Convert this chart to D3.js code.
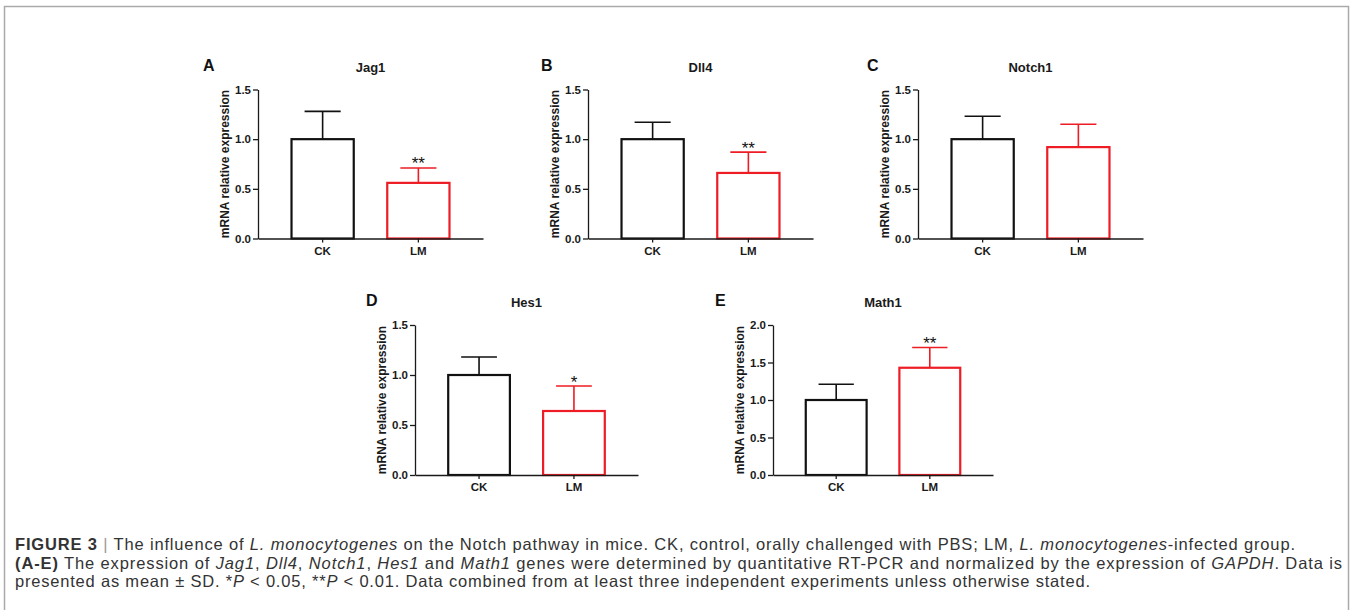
<!DOCTYPE html>
<html>
<head>
<meta charset="utf-8">
<script src="https://cdn.jsdelivr.net/npm/d3@7"></script>
<style>
  body { margin: 0; background: #fff; }
  svg { display: block; }
  .axis path, .axis line { stroke: #1a1a1a; stroke-width: 1.3px; }
</style>
</head>
<body>
<div id="svg"></div>
<script>
// data
var categories = ["CK", "LM"];
var genes = ["Jag1", "Dll4", "Notch1", "Hes1", "Math1"];
var letters = ["A", "B", "C", "D", "E"];
var meanCK = [1.00, 1.00, 1.00, 1.00, 1.00];
var meanLM = [0.56, 0.66, 0.92, 0.64, 1.43];
var sdCK = [0.28, 0.17, 0.23, 0.18, 0.21];
var sdLM = [0.15, 0.21, 0.23, 0.25, 0.27];
var stars = ["**", "**", "", "*", "**"];
var yMax = [1.5, 1.5, 1.5, 1.5, 2.0];
var yTicks = [
  [0, 0.5, 1.0, 1.5],
  [0, 0.5, 1.0, 1.5],
  [0, 0.5, 1.0, 1.5],
  [0, 0.5, 1.0, 1.5],
  [0, 0.5, 1.0, 1.5, 2.0]
];
var barColors = ["#111111", "#ee1c24"];

// where each panel's plot area sits on the page
var panels = [
  { x0: 258, x1: 483, top: 89.5, bottom: 238.5 },
  { x0: 588, x1: 813, top: 89.5, bottom: 238.5 },
  { x0: 918, x1: 1143, top: 89.5, bottom: 238.5 },
  { x0: 415, x1: 638, top: 325, bottom: 475 },
  { x0: 773, x1: 993, top: 325, bottom: 475 }
];
var letterX = [203, 541, 867, 366, 715];

var width = 1350, height = 610;
var font = "'Liberation Sans', Arial, sans-serif";

var svg = d3.select("#svg").append("svg")
    .attr("width", width)
    .attr("height", height);

// figure frame
svg.append("rect")
    .attr("x", 4.5)
    .attr("y", 6.5)
    .attr("width", 1344)
    .attr("height", 700)
    .attr("fill", "none")
    .attr("stroke", "#aaaaaa")
    .attr("stroke-width", 1.5);

genes.forEach(function (gene, i) {
  var p = panels[i];
  var g = svg.append("g");

  var data = categories.map(function (c, j) {
    return {
      cat: c,
      mean: j == 0 ? meanCK[i] : meanLM[i],
      sd: j == 0 ? sdCK[i] : sdLM[i],
      color: barColors[j]
    };
  });

  var xScale = d3.scaleBand()
      .domain(categories)
      .range([p.x0, p.x1])
      .paddingInner(0.35)
      .paddingOuter(0.35);

  var yScale = d3.scaleLinear()
      .domain([0, yMax[i]])
      .range([p.bottom, p.top]);

  // bars
  g.selectAll(".bar")
      .data(data)
      .enter().append("rect")
      .attr("x", d => xScale(d.cat))
      .attr("y", d => yScale(d.mean))
      .attr("width", xScale.bandwidth())
      .attr("height", d => yScale(0) - yScale(d.mean))
      .attr("fill", "#fff")
      .attr("stroke", d => d.color)
      .attr("stroke-width", 2.2);

  // upper error bars
  var cap = xScale.bandwidth() * 0.29;
  g.selectAll(".err")
      .data(data)
      .enter().append("path")
      .attr("fill", "none")
      .attr("stroke", d => d.color)
      .attr("stroke-width", 1.6)
      .attr("d", function (d) {
        var cx = xScale(d.cat) + xScale.bandwidth() / 2;
        var yt = yScale(d.mean + d.sd);
        return "M" + cx + "," + yScale(d.mean) + "V" + yt +
               "M" + (cx - cap) + "," + yt + "H" + (cx + cap);
      });

  // significance
  g.append("text")
      .attr("x", xScale("LM") + xScale.bandwidth() / 2)
      .attr("y", yScale(meanLM[i] + sdLM[i]) + 1.5)
      .attr("text-anchor", "middle")
      .style("font-family", font)
      .style("font-size", "17px")
      .style("fill", "#111")
      .text(stars[i]);

  var xAxis = d3.axisBottom(xScale)
      .tickSize(4)
      .tickSizeOuter(0)
      .tickPadding(4);

  var yAxis = d3.axisLeft(yScale)
      .tickValues(yTicks[i])
      .tickFormat(d3.format(".1f"))
      .tickSize(5)
      .tickSizeOuter(0)
      .tickPadding(2);

  var gx = g.append("g")
      .attr("class", "axis")
      .attr("transform", "translate(0," + p.bottom + ")")
      .call(xAxis);

  var gy = g.append("g")
      .attr("class", "axis")
      .attr("transform", "translate(" + p.x0 + ",0)")
      .call(yAxis);

  gx.selectAll(".tick text")
      .style("font-family", font)
      .style("font-weight", "bold")
      .style("font-size", "11.5px")
      .style("fill", "#1a1a1a");

  gy.selectAll(".tick text")
      .style("font-family", font)
      .style("font-weight", "bold")
      .style("font-size", "11.5px")
      .style("fill", "#1a1a1a");

  // y label
  g.append("text")
      .attr("transform", "rotate(-90)")
      .attr("x", -(p.top + p.bottom) / 2)
      .attr("y", p.x0 - 29)
      .attr("text-anchor", "middle")
      .style("font-family", font)
      .style("font-weight", "bold")
      .style("font-size", "12px")
      .style("fill", "#1a1a1a")
      .text("mRNA relative expression");

  // title
  g.append("text")
      .attr("x", (p.x0 + p.x1) / 2)
      .attr("y", p.top - 18)
      .attr("text-anchor", "middle")
      .style("font-family", font)
      .style("font-weight", "bold")
      .style("font-size", "13px")
      .style("fill", "#1a1a1a")
      .text(gene);

  // panel letter
  g.append("text")
      .attr("x", letterX[i])
      .attr("y", p.top - 19)
      .style("font-family", font)
      .style("font-weight", "bold")
      .style("font-size", "16px")
      .style("fill", "#111")
      .text(letters[i]);
});

// caption
var capLines = [
  { w: 1280, parts: [["FIGURE 3", "b"], [" ", ""], ["|", "bar"], [" The influence of ", ""], ["L. monocytogenes", "i"], [" on the Notch pathway in mice. CK, control, orally challenged with PBS; LM, ", ""], ["L. monocytogenes", "i"], ["-infected group.", ""]] },
  { w: 1327, parts: [["(A-E)", "b"], [" The expression of ", ""], ["Jag1", "i"], [", ", ""], ["Dll4", "i"], [", ", ""], ["Notch1", "i"], [", ", ""], ["Hes1", "i"], [" and ", ""], ["Math1", "i"], [" genes were determined by quantitative RT-PCR and normalized by the expression of ", ""], ["GAPDH", "i"], [". Data is", ""]] },
  { w: 1075, parts: [["presented as mean \u00b1 SD. *", ""], ["P", "i"], [" < 0.05, **", ""], ["P", "i"], [" < 0.01. Data combined from at least three independent experiments unless otherwise stated.", ""]] }
];

capLines.forEach(function (line, k) {
  var t = svg.append("text")
      .attr("x", 15)
      .attr("y", 550 + k * 18.5)
      .attr("textLength", line.w)
      .attr("lengthAdjust", "spacing")
      .style("font-family", font)
      .style("font-size", "16.5px")
      .style("fill", "#333");
  line.parts.forEach(function (pt) {
    var s = t.append("tspan").text(pt[0]);
    if (pt[1] == "b") s.style("font-weight", "bold");
    if (pt[1] == "i") s.style("font-style", "italic");
    if (pt[1] == "bar") s.style("fill", "#999").style("font-weight", "300");
  });
});
</script>
</body>
</html>
